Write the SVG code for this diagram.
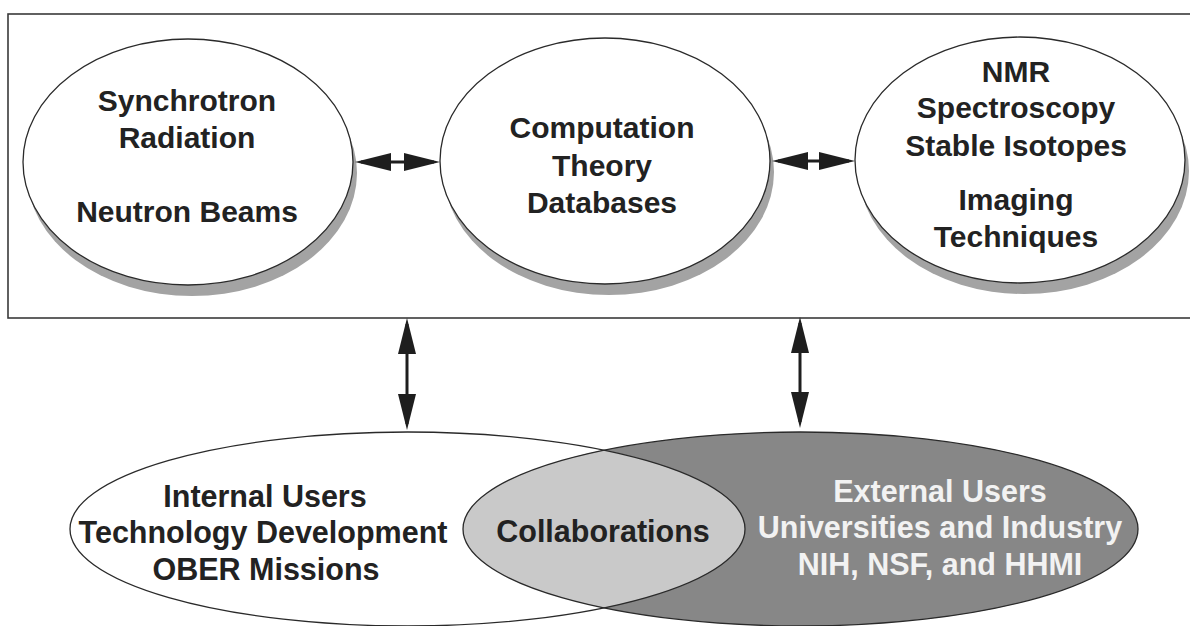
<svg xmlns="http://www.w3.org/2000/svg" width="1190" height="626" viewBox="0 0 1190 626">
  <style>
    .t { font-family: "Liberation Sans", Arial, sans-serif; font-weight: bold; font-size: 30px; fill: #222; text-anchor: middle; }
    .tl { font-family: "Liberation Sans", Arial, sans-serif; font-weight: bold; font-size: 30.5px; fill: #222; text-anchor: middle; }
    .tw { fill: #f2f2f2; }
    .ell { fill: #fff; stroke: #2a2a2a; stroke-width: 1.3; }
    .shadow { fill: #a3a3a3; }
    .outline { fill: none; stroke: #2a2a2a; stroke-width: 1.3; }
    .conn { stroke: #1e1e1e; stroke-width: 3; fill: none; marker-start: url(#head); marker-end: url(#head); }
  </style>
  <defs>
    <marker id="head" viewBox="0 0 36 18" refX="30" refY="9" markerWidth="36" markerHeight="18" markerUnits="userSpaceOnUse" orient="auto-start-reverse">
      <path d="M0,0 L36,9 L0,18 z" fill="#1e1e1e"/>
    </marker>
    <clipPath id="clipExt">
      <ellipse cx="800.5" cy="529" rx="337.5" ry="97"/>
    </clipPath>
  </defs>
  <rect width="1190" height="626" fill="#fff"/>

  <g id="frame">
    <rect x="8" y="14" width="1200" height="304" fill="none" stroke="#3a3a3a" stroke-width="1.6"/>
  </g>

  <g id="synchrotron">
    <ellipse class="shadow" cx="192" cy="173" rx="165" ry="123"/>
    <ellipse class="ell" cx="188" cy="162" rx="165" ry="123"/>
    <text class="t" x="187" y="111">Synchrotron</text>
    <text class="t" x="187" y="148">Radiation</text>
    <text class="t" x="187" y="222">Neutron Beams</text>
  </g>

  <g id="computation">
    <ellipse class="shadow" cx="609" cy="172" rx="165" ry="123"/>
    <ellipse class="ell" cx="605" cy="161" rx="165" ry="123"/>
    <text class="t" x="602" y="138">Computation</text>
    <text class="t" x="602" y="176">Theory</text>
    <text class="t" x="602" y="213">Databases</text>
  </g>

  <g id="nmr">
    <ellipse class="shadow" cx="1024" cy="171" rx="165" ry="123"/>
    <ellipse class="ell" cx="1020" cy="160" rx="165" ry="123"/>
    <text class="t" x="1016" y="82">NMR</text>
    <text class="t" x="1016" y="118">Spectroscopy</text>
    <text class="t" x="1016" y="156">Stable Isotopes</text>
    <text class="t" x="1016" y="210">Imaging</text>
    <text class="t" x="1016" y="247">Techniques</text>
  </g>

  <g id="internal">
    <ellipse cx="407.5" cy="529" rx="337.5" ry="97" fill="#fff"/>
  </g>
  <g id="external">
    <ellipse cx="800.5" cy="529" rx="337.5" ry="97" fill="#878787"/>
  </g>
  <g id="collaborations">
    <ellipse cx="407.5" cy="529" rx="337.5" ry="97" fill="#c9c9c9" clip-path="url(#clipExt)"/>
  </g>
  <g id="lower-outlines">
    <ellipse class="outline" cx="407.5" cy="529" rx="337.5" ry="97"/>
    <ellipse class="outline" cx="800.5" cy="529" rx="337.5" ry="97"/>
  </g>
  <g id="lower-labels">
    <text class="tl" x="265" y="507">Internal Users</text>
    <text class="tl" x="263" y="543">Technology Development</text>
    <text class="tl" x="266" y="580">OBER Missions</text>
    <text class="tl" x="603" y="542">Collaborations</text>
    <text class="tl tw" x="940" y="502">External Users</text>
    <text class="tl tw" x="940" y="538">Universities and Industry</text>
    <text class="tl tw" x="940" y="575">NIH, NSF, and HHMI</text>
  </g>

  <g id="connectors">
    <line class="conn" x1="361" y1="162" x2="434" y2="162"/>
    <line class="conn" x1="778" y1="161" x2="849" y2="161"/>
    <line class="conn" x1="407" y1="324" x2="407" y2="424"/>
    <line class="conn" x1="800" y1="323" x2="800" y2="422"/>
  </g>
</svg>
